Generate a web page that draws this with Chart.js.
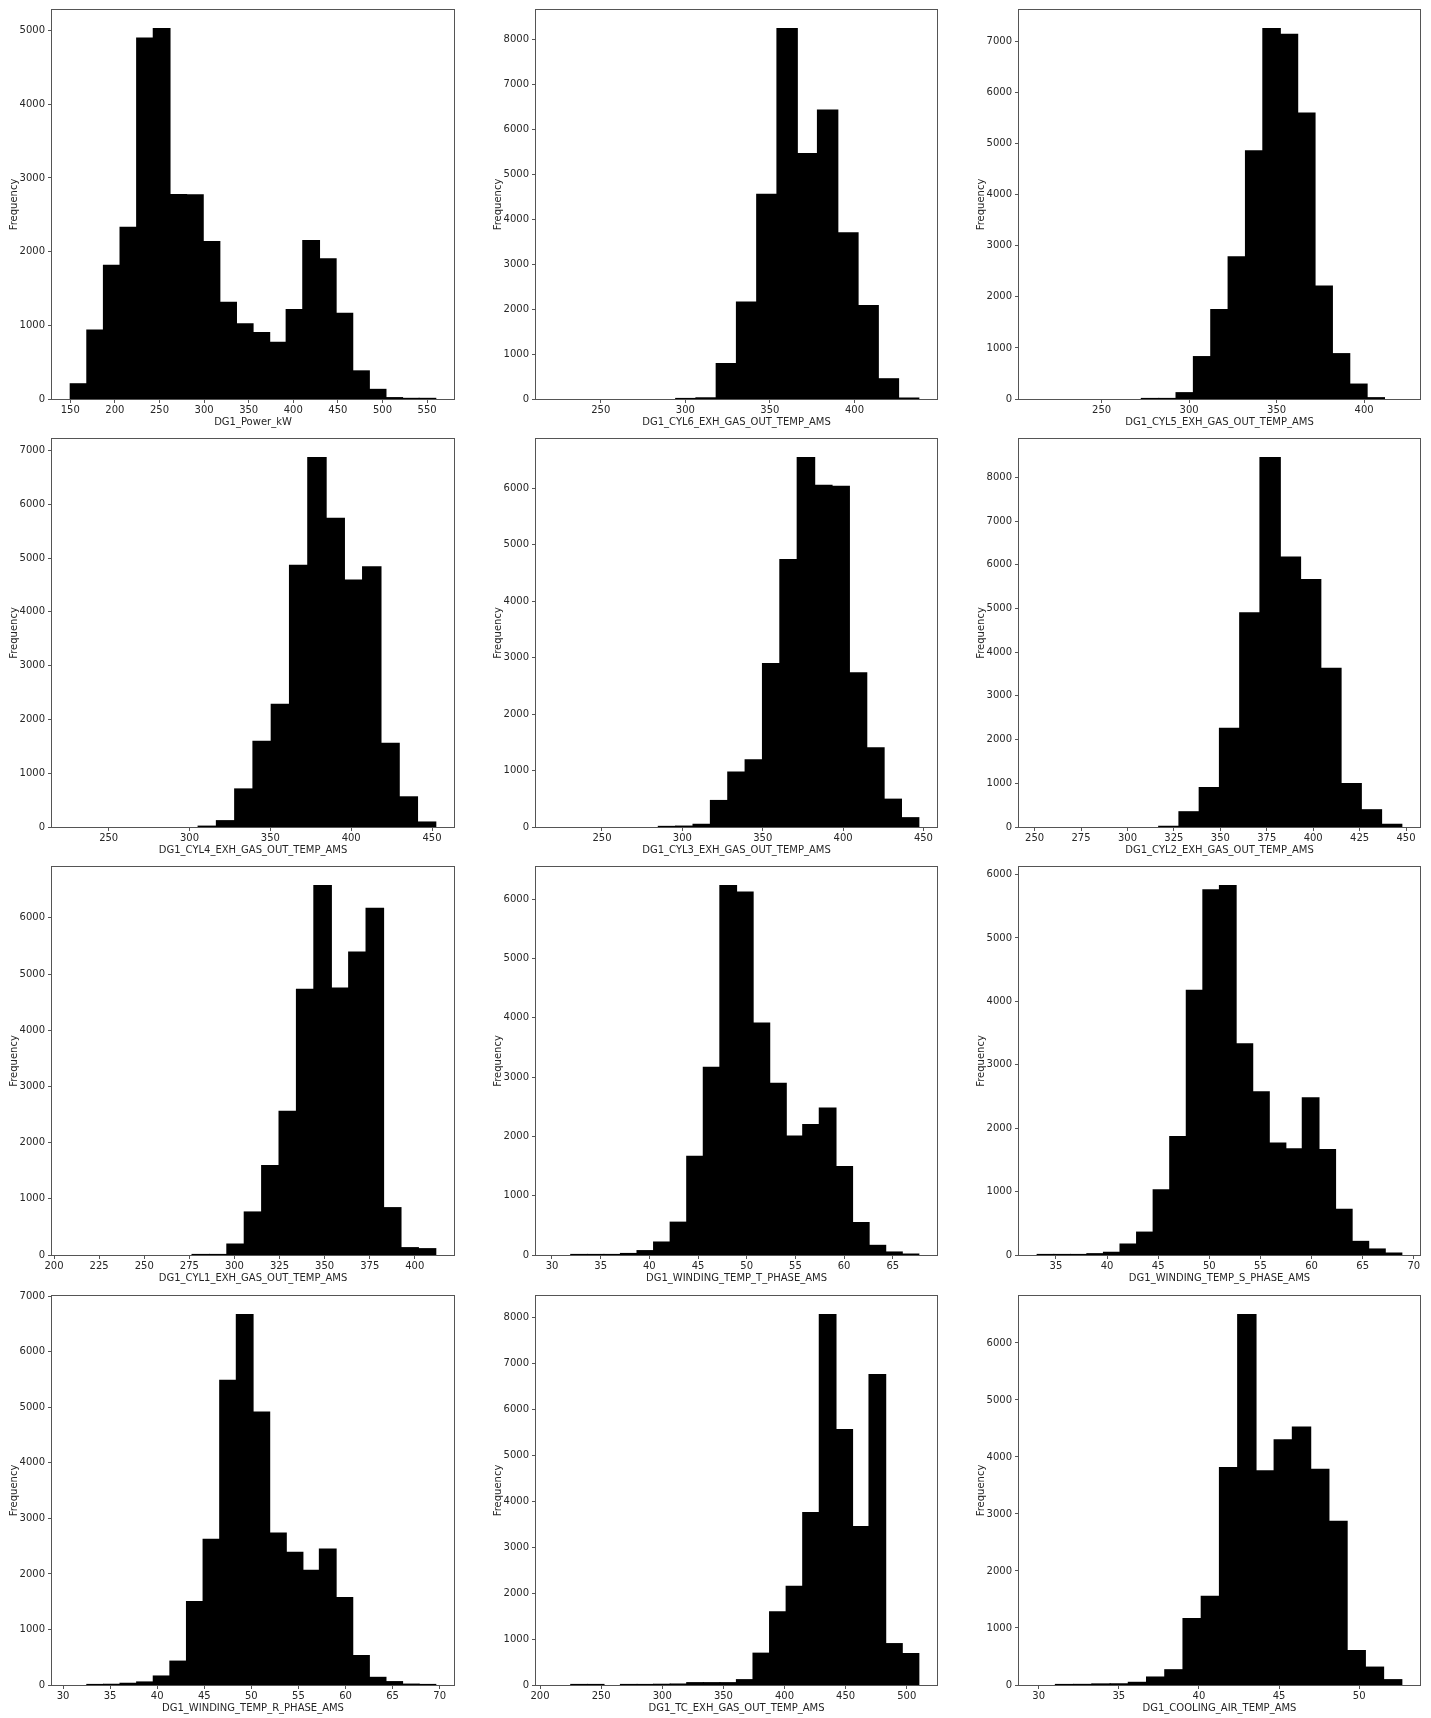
<!DOCTYPE html>
<html>
<head>
<meta charset="utf-8">
<title>DG1 histograms</title>
<script src="https://cdn.jsdelivr.net/npm/chart.js@4.4.1/dist/chart.umd.min.js"></script>
<style>
  body { margin: 0; background: #fff; width: 1431px; height: 1718px; position: relative; overflow: hidden; }
  canvas { position: absolute; }
</style>
</head>
<body>
<script>
// --- DATA ---
const columnNames = [
    'DG1_Power_kW', 'DG1_CYL6_EXH_GAS_OUT_TEMP_AMS', 'DG1_CYL5_EXH_GAS_OUT_TEMP_AMS',
    'DG1_CYL4_EXH_GAS_OUT_TEMP_AMS', 'DG1_CYL3_EXH_GAS_OUT_TEMP_AMS', 'DG1_CYL2_EXH_GAS_OUT_TEMP_AMS',
    'DG1_CYL1_EXH_GAS_OUT_TEMP_AMS', 'DG1_WINDING_TEMP_T_PHASE_AMS', 'DG1_WINDING_TEMP_S_PHASE_AMS',
    'DG1_WINDING_TEMP_R_PHASE_AMS', 'DG1_TC_EXH_GAS_OUT_TEMP_AMS', 'DG1_COOLING_AIR_TEMP_AMS'
];

// data min / max of each column (bins span this range evenly)
const dataRanges = [
    [150, 559.7], [222.5, 438.0], [213.2, 421.5],
    [226.25, 452.3], [220.3, 447.1], [251.4, 447.7],
    [209.0, 411.6], [30.23, 67.67], [33.17, 68.82],
    [30.77, 69.58], [211.6, 509.8], [29.91, 52.66]
];

const powerCounts = [206, 934, 1813, 2329, 4896, 5027, 2774, 2770, 2136, 1310, 1019, 902, 767, 1212, 2150, 1903, 1162, 381, 130, 18, 8, 8];
const cyl6Counts = [0, 0, 0, 0, 0, 0, 5, 25, 787, 2154, 4551, 8235, 5456, 6419, 3691, 2074, 449, 20];
const cyl5Counts = [0, 0, 0, 0, 0, 0, 5, 10, 123, 829, 1748, 2784, 4857, 7252, 7136, 5595, 2208, 887, 291, 25, 0];
const cyl4Counts = [0, 0, 0, 0, 0, 0, 0, 15, 117, 707, 1593, 2282, 4865, 6871, 5739, 4589, 4835, 1556, 560, 92];
const cyl3Counts = [0, 0, 0, 0, 0, 0, 10, 15, 47, 469, 973, 1189, 2894, 4734, 6545, 6052, 6035, 2730, 1400, 492, 164];
const cyl2Counts = [0, 0, 0, 0, 0, 0, 15, 348, 902, 2258, 4902, 8455, 6174, 5659, 3629, 992, 394, 61];
const cyl1Counts = [0, 0, 0, 0, 0, 0, 0, 8, 8, 194, 765, 1590, 2555, 4728, 6577, 4752, 5393, 6171, 842, 130, 112];
const windTCounts = [0, 5, 5, 5, 25, 73, 218, 553, 1663, 3164, 6234, 6122, 3912, 2897, 2004, 2199, 2478, 1490, 547, 162, 50, 15];
const windSCounts = [5, 3, 3, 20, 42, 172, 360, 1028, 1868, 4174, 5760, 5827, 3328, 2572, 1763, 1675, 2478, 1664, 720, 214, 94, 30];
const windRCounts = [0, 8, 12, 30, 54, 161, 429, 1501, 2621, 5486, 6672, 4915, 2734, 2389, 2067, 2448, 1573, 530, 137, 60, 15, 3];
const tcCounts = [0, 8, 3, 0, 8, 8, 15, 20, 50, 50, 50, 115, 691, 1590, 2144, 3748, 8057, 5554, 3446, 6748, 899, 683];
const coolAirCounts = [0, 8, 10, 18, 20, 46, 139, 267, 1166, 1555, 3813, 6499, 3755, 4300, 4526, 3784, 2872, 604, 313, 93];

const allCounts = [powerCounts, cyl6Counts, cyl5Counts, cyl4Counts, cyl3Counts, cyl2Counts,
    cyl1Counts, windTCounts, windSCounts, windRCounts, tcCounts, coolAirCounts];

const xTickLabels = [
    [150, 200, 250, 300, 350, 400, 450, 500, 550], [250, 300, 350, 400], [250, 300, 350, 400],
    [250, 300, 350, 400, 450], [250, 300, 350, 400, 450], [250, 275, 300, 325, 350, 375, 400, 425, 450],
    [200, 225, 250, 275, 300, 325, 350, 375, 400], [30, 35, 40, 45, 50, 55, 60, 65], [35, 40, 45, 50, 55, 60, 65, 70],
    [30, 35, 40, 45, 50, 55, 60, 65, 70], [200, 250, 300, 350, 400, 450, 500], [30, 35, 40, 45, 50]
];

const yTickLabels = [
    [0, 1000, 2000, 3000, 4000, 5000], [0, 1000, 2000, 3000, 4000, 5000, 6000, 7000, 8000],
    [0, 1000, 2000, 3000, 4000, 5000, 6000, 7000], [0, 1000, 2000, 3000, 4000, 5000, 6000, 7000],
    [0, 1000, 2000, 3000, 4000, 5000, 6000], [0, 1000, 2000, 3000, 4000, 5000, 6000, 7000, 8000],
    [0, 1000, 2000, 3000, 4000, 5000, 6000], [0, 1000, 2000, 3000, 4000, 5000, 6000],
    [0, 1000, 2000, 3000, 4000, 5000, 6000], [0, 1000, 2000, 3000, 4000, 5000, 6000, 7000],
    [0, 1000, 2000, 3000, 4000, 5000, 6000, 7000, 8000], [0, 1000, 2000, 3000, 4000, 5000, 6000]
];

// --- LAYOUT (plot areas in page pixels) ---
const colLeft = [52, 536, 1019];
const colRight = [454, 937, 1420];
const rowTop = [7, 436, 864, 1293];
const rowBottom = [399, 827, 1255, 1685];
const AXIS_W = 52, AXIS_H = 34, PAD = 6;
const SPINE = '#555';

Chart.defaults.font.family = 'DejaVu Sans';
Chart.defaults.font.size = 10;
Chart.defaults.color = '#262626';

// matplotlib-style box around the plot area
const framePlugin = {
    id: 'frame',
    afterDraw(chart) {
        const { ctx, chartArea: a } = chart;
        ctx.save();
        ctx.strokeStyle = SPINE;
        ctx.lineWidth = 1;
        ctx.strokeRect(a.left - 0.5, a.top - 0.5, a.right - a.left + 1, a.bottom - a.top + 1);
        ctx.restore();
    }
};

function makePanel(i) {
    const r = Math.floor(i / 3), c = i % 3;
    const L = colLeft[c], R = colRight[c], T = rowTop[r], B = rowBottom[r];

    const canvas = document.createElement('canvas');
    canvas.width = R - L + AXIS_W + PAD;
    canvas.height = B - T + PAD + AXIS_H;
    canvas.style.left = (L - AXIS_W) + 'px';
    canvas.style.top = (T - PAD) + 'px';
    document.body.appendChild(canvas);

    const counts = allCounts[i];
    const [lo, hi] = dataRanges[i];
    const binW = (hi - lo) / counts.length;
    const points = counts.map((n, k) => ({ x: lo + (k + 0.5) * binW, y: n }));
    const margin = (hi - lo) * 0.05;

    new Chart(canvas, {
        type: 'bar',
        data: {
            datasets: [{
                data: points,
                backgroundColor: '#000',
                borderWidth: 0,
                // overlap neighbours so no seams show; empty bins stay invisible
                inflateAmount: ctx => (ctx.raw && ctx.raw.y > 0 ? 0.6 : 0),
                barPercentage: 1,
                categoryPercentage: 1
            }]
        },
        options: {
            responsive: false,
            animation: false,
            devicePixelRatio: 1,
            layout: { padding: { top: PAD, right: PAD, left: 0, bottom: 0 } },
            plugins: { legend: { display: false }, tooltip: { enabled: false } },
            scales: {
                x: {
                    type: 'linear',
                    min: lo - margin,
                    max: hi + margin,
                    offset: false,
                    grid: { offset: false, drawOnChartArea: false, drawTicks: true, tickLength: 4, color: SPINE },
                    border: { display: false },
                    ticks: { autoSkip: false, maxRotation: 0, padding: 1, callback: v => String(v) },
                    afterBuildTicks: s => { s.ticks = xTickLabels[i].map(v => ({ value: v })); },
                    afterFit: s => { s.height = AXIS_H; },
                    title: { display: true, text: columnNames[i], padding: { top: 0, bottom: 5 } }
                },
                y: {
                    type: 'linear',
                    min: 0,
                    max: Math.max(...counts) * 1.05,
                    grid: { drawOnChartArea: false, drawTicks: true, tickLength: 4, color: SPINE },
                    border: { display: false },
                    ticks: { padding: 3, callback: v => String(v) },
                    afterBuildTicks: s => { s.ticks = yTickLabels[i].map(v => ({ value: v })); },
                    afterFit: s => { s.width = AXIS_W; },
                    title: { display: true, text: 'Frequency', padding: { top: 8, bottom: 0 } }
                }
            }
        },
        plugins: [framePlugin]
    });
}

columnNames.forEach((_, i) => makePanel(i));
</script>
</body>
</html>
